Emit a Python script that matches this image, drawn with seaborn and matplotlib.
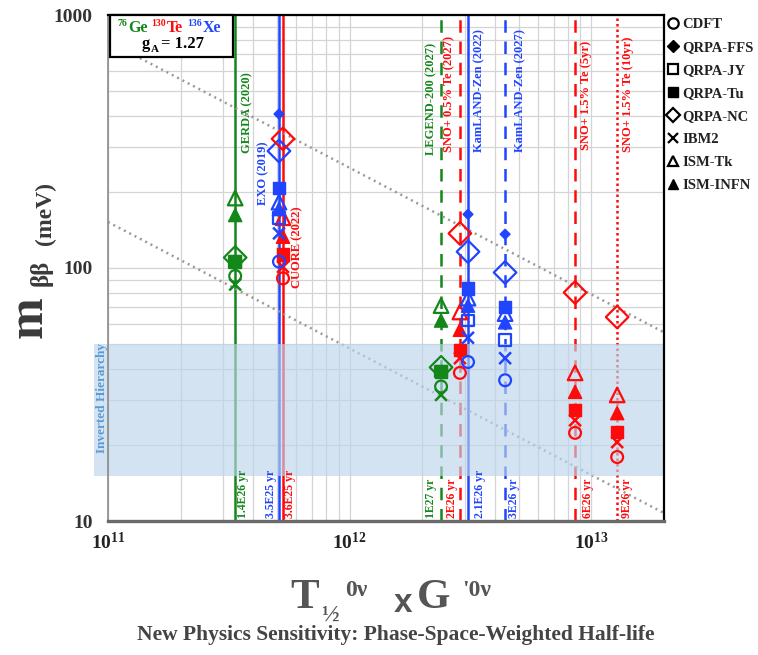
import numpy as np
import pandas as pd
import matplotlib
matplotlib.use("Agg")
import matplotlib.pyplot as plt
import matplotlib.transforms as mtransforms
from matplotlib.lines import Line2D
from matplotlib.patches import Rectangle
import seaborn as sns

nan = np.nan

# ---------------- data ----------------
experiments = ["GERDA (2020)", "EXO (2019)", "CUORE (2022)", "LEGEND-200 (2027)",
               "SNO+ 0.5% Te (2027)", "KamLAND-Zen (2022)", "KamLAND-Zen (2027)",
               "SNO+ 1.5% Te (5yr)", "SNO+ 1.5% Te (10yr)"]
isotopes = ["Ge", "Xe", "Te", "Ge", "Te", "Xe", "Xe", "Te", "Te"]
sensitivity = [3.36e11, 5.1e11, 5.3e11, 2.39e12, 2.86e12, 3.09e12, 4.4e12, 8.57e12, 1.28e13]
halflife_labels = ["1.4E26 yr", "3.5E25 yr", "3.6E25 yr", "1E27 yr", "2E26 yr",
                   "2.1E26 yr", "3E26 yr", "6E26 yr", "9E26 yr"]

models = ["CDFT", "QRPA-FFS", "QRPA-JY", "QRPA-Tu", "QRPA-NC", "IBM2", "ISM-Tk", "ISM-INFN"]
m_cdft     = [93, 106, 91, 34, 38.5, 42.5, 36, 22.3, 17.9]
m_qrpa_ffs = [nan, 406, nan, nan, nan, 163, 136, nan, nan]
m_qrpa_jy  = [106, 158, nan, 39, nan, 62, 52, nan, nan]
m_qrpa_tu  = [106, 207, 113, 39, 47.5, 83, 70, 27.5, 22.5]
m_qrpa_nc  = [110, 290, 324, 40.5, 137, 116, 96, 80, 64]
m_ibm2     = [86, 137, 101, 31.5, 44, 53, 44, 25, 20.5]
m_ism_tk   = [189, 182, 158, 71, 67, 76, 66, 38.5, 31.5]
m_ism_infn = [162, 171, 133, 62, 57, 71, 61, 32.4, 26.7]
model_values = [m_cdft, m_qrpa_ffs, m_qrpa_jy, m_qrpa_tu, m_qrpa_nc, m_ibm2, m_ism_tk, m_ism_infn]

ih_band = [15, 50]                 # inverted hierarchy band (meV)
diag_ref_at_1e11 = [787, 152]      # reference 1/sqrt(T) lines, value at 1e11
x_range = [1e11, 2e13]
y_range = [10, 1000]
isotope_masses = ["76", "130", "136"]
isotope_symbols = ["Ge", "Te", "Xe"]
g_a = "1.27"

# ---------------- styles ----------------
iso_colors = {"Ge": "#14871a", "Te": "#ff0a0a", "Xe": "#1f45ff"}
exp_linestyle = ["-", "-", "-", (0, (5, 3.5)), (0, (5, 3.5)), "-", (0, (5, 3.5)),
                 (0, (5, 3.5)), (0, (1, 1.2))]
label_dx_px = [12, -16, 14, -10, -11, 11, 15, 11, 11]
label_bottom_px = [153, 205, 288, 155, 152, 152, 152, 150, 152]
hl_dx_px = [8, -8, 7, -10, -8, 12, 9, 13, 10]
# marker, open?, size(pt), edge width
marker_style = {
    "CDFT": ("o", True, 8.5, 1.6),
    "QRPA-FFS": ("D", False, 5.0, 1.0),
    "QRPA-JY": ("s", True, 8.5, 1.6),
    "QRPA-Tu": ("s", False, 9.0, 1.0),
    "QRPA-NC": ("D", True, 11.5, 1.6),
    "IBM2": ("x", False, 8.5, 1.8),
    "ISM-Tk": ("^", True, 10.5, 1.6),
    "ISM-INFN": ("^", False, 9.5, 1.0),
}

W, H = 758, 655
def fx(x): return x / W
def fy(y): return 1 - y / H

serif = "Liberation Serif"
plt.rcParams["mathtext.fontset"] = "custom"
plt.rcParams["mathtext.rm"] = "Liberation Serif"
plt.rcParams["mathtext.bf"] = "Liberation Serif:bold"
plt.rcParams["mathtext.it"] = "Liberation Serif:italic"

sns.set_style("white")
plt.rcParams["font.family"] = [serif, "DejaVu Sans"]

fig = plt.figure(figsize=(W / 100, H / 100), dpi=100)
ax_left, ax_right, ax_top, ax_bot = 108, 664, 15, 521
ax = fig.add_axes([fx(ax_left), fy(ax_bot), (ax_right - ax_left) / W, (ax_bot - ax_top) / H])
ax.set_xscale("log")
ax.set_yscale("log")
ax.set_xlim(*x_range)
ax.set_ylim(*y_range)

# grid
ax.set_axisbelow(True)
ax.grid(True, which="both", color="#d4d4d4", lw=0.9, zorder=0)

# vertical experiment lines
for i, name in enumerate(experiments):
    ax.axvline(sensitivity[i], color=iso_colors[isotopes[i]], lw=1.8,
               ls=exp_linestyle[i], zorder=1)

# reference diagonal lines
xs = np.array(x_range)
for c in diag_ref_at_1e11:
    ax.plot(xs, c * np.sqrt(x_range[0] / xs), color="#9a9a9a", lw=1.8,
            ls=(0, (0.8, 1.6)), zorder=1.5)

# inverted hierarchy band (drawn semi-transparent over lines)
blend = mtransforms.blended_transform_factory(ax.transAxes, ax.transData)
ax.add_patch(Rectangle((-0.025, ih_band[0]), 1.025, ih_band[1] - ih_band[0],
                       transform=blend, facecolor="#bcd5ea", alpha=0.65,
                       edgecolor="none", zorder=2, clip_on=False))
ax.text(-0.011, np.sqrt(ih_band[0] * ih_band[1]) * 1.12, "Inverted Hierarchy",
        transform=blend, rotation=90, ha="center", va="center", color="#5b9bd5",
        fontsize=9.5, fontweight="bold", zorder=3)

# data points through seaborn
rows = []
for mname, vals in zip(models, model_values):
    for i, v in enumerate(vals):
        if not np.isnan(v):
            rows.append({"model": mname, "exp": experiments[i], "iso": isotopes[i],
                         "x": sensitivity[i], "m": v})
df = pd.DataFrame(rows)

draw_order = ["QRPA-NC", "QRPA-FFS", "ISM-Tk", "ISM-INFN", "QRPA-JY", "QRPA-Tu", "IBM2", "CDFT"]
for mname in draw_order:
    mk, is_open, ms, ew = marker_style[mname]
    sub = df[df["model"] == mname]
    sns.scatterplot(data=sub, x="x", y="m", hue="iso", palette=iso_colors, marker=mk,
                    s=ms ** 2, linewidth=ew, legend=False, ax=ax, zorder=5)
    coll = ax.collections[-1]
    fc = coll.get_facecolors()
    coll.set_edgecolors(fc)
    if is_open:
        coll.set_facecolors("none")
    coll.set_linewidths([ew])

# experiment labels
for i, name in enumerate(experiments):
    col = iso_colors[isotopes[i]]
    base = mtransforms.blended_transform_factory(ax.transData, fig.transFigure)
    tr = mtransforms.offset_copy(base, fig=fig, x=label_dx_px[i] * 0.72, y=0, units="points")
    fig.text(sensitivity[i], fy(label_bottom_px[i]), name, transform=tr, rotation=90,
             ha="center", va="bottom", color=col, fontsize=9, fontweight="bold", zorder=6)
    tr2 = mtransforms.offset_copy(base, fig=fig, x=hl_dx_px[i] * 0.72, y=0, units="points")
    fig.text(sensitivity[i], fy(518), halflife_labels[i], transform=tr2, rotation=90,
             ha="center", va="bottom", color=col, fontsize=8.5, fontweight="bold", zorder=6)

# spines
for s in ["top", "right"]:
    ax.spines[s].set_color("black")
    ax.spines[s].set_linewidth(1.6)
ax.spines["left"].set_color("#8a8a8a")
ax.spines["left"].set_linewidth(1.2)
ax.spines["bottom"].set_color("#6a6a6a")
ax.spines["bottom"].set_linewidth(2.4)
for s in ax.spines.values():
    s.set_zorder(7)

# ticks
ax.set_yticks([10, 100, 1000])
ax.set_yticklabels(["10", "100", "1000"])
ax.set_xticks([1e11, 1e12, 1e13])
ax.set_xticklabels([r"$\mathbf{10^{11}}$", r"$\mathbf{10^{12}}$", r"$\mathbf{10^{13}}$"])
ax.yaxis.set_minor_formatter(matplotlib.ticker.NullFormatter())
ax.xaxis.set_minor_formatter(matplotlib.ticker.NullFormatter())
ax.tick_params(which="both", length=0)
ax.tick_params(axis="y", pad=11, labelsize=14, labelcolor="#333333")
ax.tick_params(axis="x", pad=8, labelsize=14, labelcolor="#222222")
for t in ax.get_yticklabels():
    t.set_fontweight("bold")
ax.set_xlabel("")
ax.set_ylabel("")

# top-left isotope box
ax.add_patch(Rectangle((fx(110), fy(57)), fx(233) - fx(110), fy(15) - fy(57),
                       transform=fig.transFigure, facecolor="white", edgecolor="black",
                       lw=1.6, zorder=8, clip_on=False))
sup_x = [118, 151, 187]
sym_x = [128.5, 166.5, 203]
for k in range(3):
    col = iso_colors[isotope_symbols[k]]
    fig.text(fx(sup_x[k]), fy(26.5), isotope_masses[k], color=col, fontsize=7,
             fontweight="bold", ha="left", va="baseline", zorder=9)
    fig.text(fx(sym_x[k]), fy(31.5), isotope_symbols[k], color=col, fontsize=11.5,
             fontweight="bold", ha="left", va="baseline", zorder=9)
fig.text(fx(142), fy(48.5), "g", color="black", fontsize=12, fontweight="bold",
         ha="left", va="baseline", zorder=9)
fig.text(fx(151), fy(51.5), "A", color="black", fontsize=8, fontweight="bold",
         ha="left", va="baseline", zorder=9)
fig.text(fx(161), fy(48.5), "= " + g_a, color="black", fontsize=12, fontweight="bold",
         ha="left", va="baseline", zorder=9)

# legend
handles = []
for mname in models:
    mk, is_open, ms, ew = marker_style[mname]
    handles.append(Line2D([], [], ls="none", marker=mk, color="black",
                          markerfacecolor="none" if is_open else "black",
                          markeredgecolor="black",
                          markersize=6.5 if (mk == "D" and not is_open) else 7.5,
                          markeredgewidth=1.6 if (is_open or mk == "x") else 1))
leg = fig.legend(handles, models, loc="upper left", bbox_to_anchor=(fx(667), fy(18)),
                 frameon=False, handlelength=0.8, handletextpad=0.25, labelspacing=0.67,
                 borderpad=0, borderaxespad=0,
                 prop={"family": serif, "weight": "bold", "size": 10.5})
for t in leg.get_texts():
    t.set_color("#222222")

# y label pieces (rotated)
ycol = "#3a3a3a"
fig.text(fx(30), fy(317), "m", rotation=90, ha="center", va="center", fontsize=36,
         fontweight="bold", color=ycol)
fig.text(fx(41), fy(273), "ββ", rotation=90, ha="center", va="center", fontsize=18,
         fontweight="bold", color=ycol)
fig.text(fx(45), fy(213), "(meV)", rotation=90, ha="center", va="center", fontsize=17,
         fontweight="bold", color=ycol)

# x label pieces
xcol = "#555555"
fig.text(fx(305), fy(598), "T", ha="center", va="center", fontsize=31, fontweight="bold", color=xcol)
fig.text(fx(330), fy(615), "½", ha="center", va="center", fontsize=17, fontweight="bold", color=xcol)
fig.text(fx(356), fy(590), "0ν", ha="center", va="center", fontsize=17, fontweight="bold", color=xcol)
fig.text(fx(403), fy(603), "x", ha="center", va="center", fontsize=24, color=xcol,
         fontweight="bold", family=["Liberation Sans", "DejaVu Sans"])
fig.text(fx(434), fy(598), "G", ha="center", va="center", fontsize=31, fontweight="bold", color=xcol)
fig.text(fx(477), fy(590), "'0ν", ha="center", va="center", fontsize=17, fontweight="bold", color=xcol)
fig.text(fx(396), fy(635), "New Physics Sensitivity: Phase-Space-Weighted Half-life",
         ha="center", va="center", fontsize=15.5, fontweight="bold", color="#444444")

fig.savefig("out.png", dpi=100)
